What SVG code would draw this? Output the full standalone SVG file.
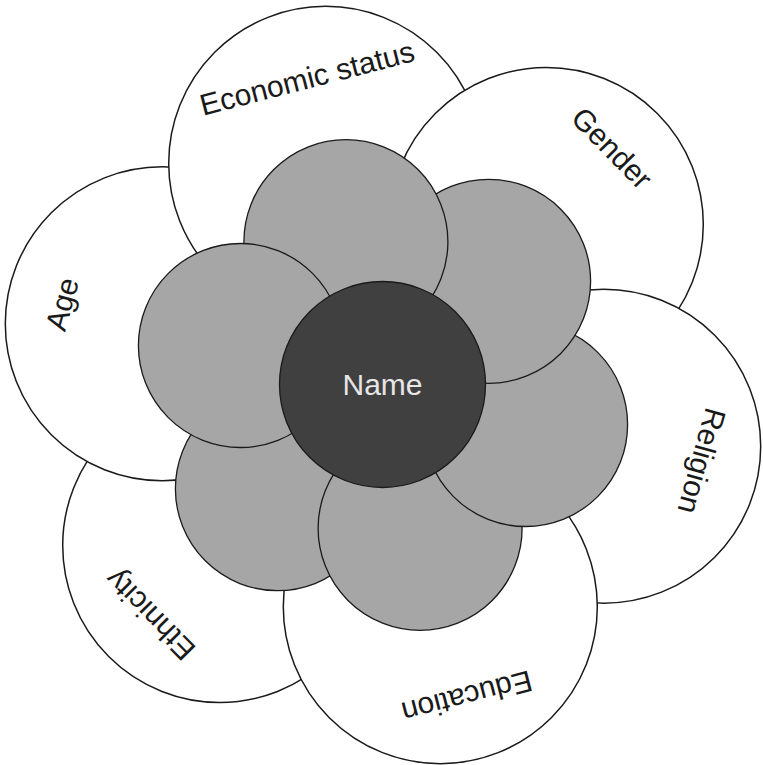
<svg xmlns="http://www.w3.org/2000/svg" width="763" height="765" viewBox="0 0 763 765">
<style>
.outer{fill:#ffffff;stroke:#1a1a1a;stroke-width:1.5}
.petal{fill:#a6a6a6;stroke:#1a1a1a;stroke-width:1.3}
.core{fill:#404040;stroke:#1a1a1a;stroke-width:1.3}
.lbl{font-family:"Liberation Sans",Arial,sans-serif;font-size:30px;fill:#1a1a1a;text-anchor:middle;dominant-baseline:central}
.name{font-family:"Liberation Sans",Arial,sans-serif;font-size:30px;fill:#e6e6e6;text-anchor:middle;dominant-baseline:central}
</style>
<rect width="763" height="765" fill="#ffffff"/>
<g id="ethnicity"><circle class="outer" cx="219.7" cy="545.5" r="157"/><text class="lbl" transform="translate(150,615) rotate(225.5)">Ethnicity</text></g>
<g id="age"><circle class="outer" cx="162.3" cy="323.8" r="157"/><text class="lbl" transform="translate(62,304) rotate(-74.5)">Age</text></g>
<g id="economic-status"><circle class="outer" cx="325.7" cy="163.3" r="157"/><text class="lbl" transform="translate(307,78) rotate(-14.5)">Economic status</text></g>
<g id="gender"><circle class="outer" cx="546.3" cy="224.5" r="157"/><text class="lbl" transform="translate(612,148) rotate(45.5)">Gender</text></g>
<g id="religion"><circle class="outer" cx="603.7" cy="446.2" r="157"/><text class="lbl" transform="translate(702,461) rotate(105.5)">Religion</text></g>
<g id="education"><circle class="outer" cx="440.3" cy="606.7" r="157"/><text class="lbl" transform="translate(467,697) rotate(165.5)">Education</text></g>
<g id="petal-5"><circle class="petal" cx="277.4" cy="488.7" r="102"/></g>
<g id="petal-4"><circle class="petal" cx="420.1" cy="528.3" r="102"/></g>
<g id="petal-3"><circle class="petal" cx="525.6" cy="424.5" r="102"/></g>
<g id="petal-2"><circle class="petal" cx="488.6" cy="281.3" r="102"/></g>
<g id="petal-1"><circle class="petal" cx="345.9" cy="241.7" r="102"/></g>
<g id="petal-6"><circle class="petal" cx="240.4" cy="345.5" r="102"/></g>
<g id="name"><circle class="core" cx="382.5" cy="384.5" r="103"/><text class="name" x="382.5" y="384.5">Name</text></g>
<g id="connectors"></g>
</svg>
